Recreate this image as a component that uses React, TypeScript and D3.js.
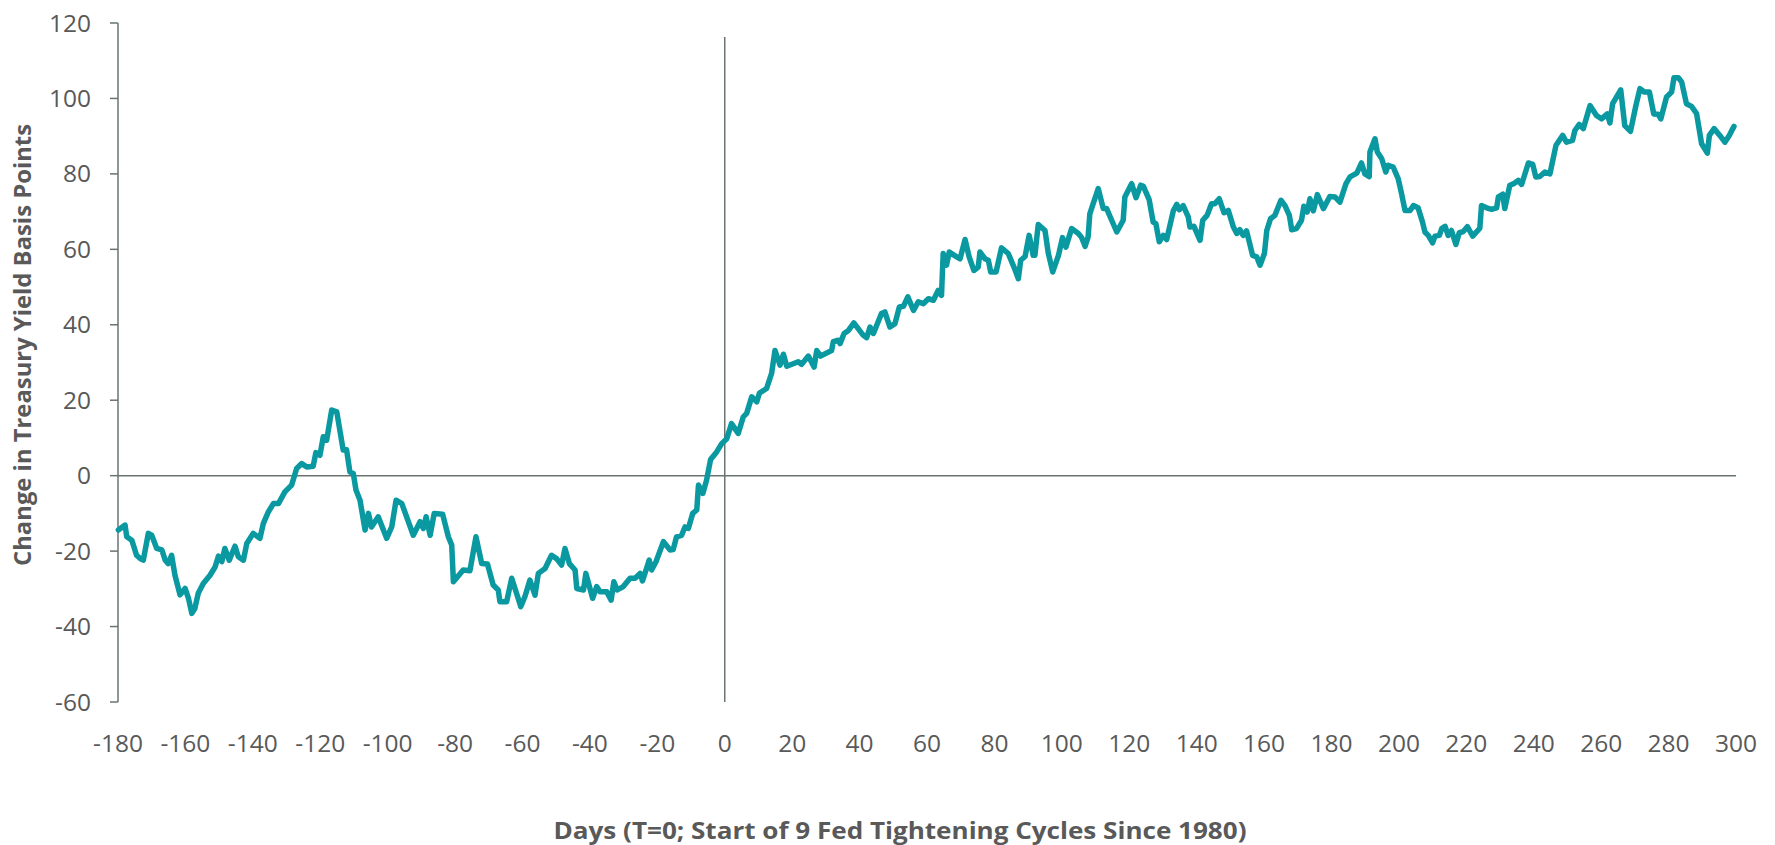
import React from "react";
import * as d3 from "d3";

const days: number[] = [
  -179.9, -177.9, -177.4, -175.9, -174.5, -173.5, -172.5, -171.0, -170.0, -168.5, -167.0, -166.0, -165.1, -164.1, -163.1,
  -161.6, -160.1, -159.1, -158.1, -157.2, -156.2, -154.7, -152.7, -151.2, -150.2, -149.2, -148.3, -147.0, -145.3, -144.3,
  -142.8, -141.8, -139.9, -137.9, -136.9, -135.4, -133.9, -132.4, -130.5, -128.5, -127.0, -125.5, -124.0, -122.1, -121.3,
  -120.1, -119.1, -118.1, -116.6, -115.1, -113.2, -112.2, -111.2, -110.2, -109.4, -108.2, -106.7, -105.7, -104.8, -102.8,
  -100.3, -98.8, -97.5, -95.8, -92.4, -90.4, -89.4, -88.6, -87.4, -86.2, -83.7, -82.0, -81.0, -80.5, -77.6,
  -75.6, -73.8, -72.1, -70.4, -68.7, -67.2, -66.7, -64.7, -63.2, -60.5, -59.3, -57.8, -56.3, -55.3, -53.3,
  -51.4, -49.9, -48.4, -47.4, -46.1, -44.4, -43.9, -41.9, -41.2, -39.2, -38.0, -37.0, -35.0, -33.7, -32.9,
  -31.9, -30.1, -28.1, -26.6, -25.1, -24.4, -22.4, -21.7, -20.4, -18.2, -16.2, -15.3, -14.3, -12.8, -11.8,
  -10.8, -9.5, -8.3, -7.8, -6.5, -5.4, -4.2, -2.4, -0.9, 0.6, 2.0, 4.0, 5.5, 6.5, 8.0,
  9.5, 10.3, 12.4, 13.9, 14.9, 16.4, 17.4, 18.4, 21.8, 22.8, 24.8, 26.5, 27.3, 28.4, 31.7,
  32.2, 33.7, 34.2, 35.4, 36.7, 38.3, 41.1, 42.1, 43.1, 44.1, 46.5, 47.5, 49.0, 50.5, 51.8,
  53.0, 54.3, 56.0, 57.4, 58.9, 60.4, 61.9, 63.3, 64.3, 64.8, 65.8, 66.6, 68.8, 69.8, 71.3,
  72.5, 73.9, 75.2, 75.7, 77.2, 78.2, 78.9, 80.5, 82.1, 84.1, 85.8, 87.1, 87.8, 89.1, 90.3,
  91.5, 92.0, 93.0, 95.0, 96.0, 97.3, 99.0, 100.2, 101.2, 102.9, 104.9, 105.9, 106.9, 107.8, 108.3,
  109.3, 110.8, 112.3, 113.3, 114.3, 116.3, 118.2, 118.7, 120.7, 122.0, 123.4, 124.2, 125.9, 127.1, 127.9,
  128.9, 130.1, 131.1, 133.1, 134.1, 134.8, 136.0, 137.5, 138.0, 139.2, 141.0, 141.8, 143.1, 144.4, 145.4,
  146.7, 148.1, 149.4, 150.9, 151.9, 152.8, 153.8, 154.8, 156.6, 157.8, 158.8, 160.1, 160.8, 161.9, 163.2,
  165.0, 166.2, 167.5, 168.2, 169.6, 171.1, 171.8, 172.8, 173.6, 174.6, 175.8, 177.6, 179.5, 181.0, 182.5,
  184.3, 185.5, 187.5, 188.9, 189.9, 191.2, 191.4, 192.9, 193.6, 194.9, 196.1, 196.8, 198.3, 199.8, 200.8,
  201.8, 203.3, 204.3, 205.7, 207.0, 207.7, 208.7, 210.0, 210.7, 212.0, 212.7, 213.7, 214.6, 215.6, 216.9,
  217.9, 219.1, 220.3, 221.9, 224.0, 224.5, 226.0, 227.5, 229.0, 229.5, 230.8, 231.4, 232.9, 234.1, 235.4,
  236.4, 238.4, 239.7, 240.6, 241.8, 243.3, 244.8, 246.6, 248.6, 249.7, 251.5, 252.2, 253.5, 254.7, 256.7,
  258.6, 260.1, 261.8, 262.6, 263.4, 265.8, 267.0, 268.7, 270.3, 271.5, 272.8, 274.3, 275.6, 276.9, 277.7,
  279.4, 280.9, 281.6, 282.9, 283.9, 285.3, 286.8, 288.3, 289.8, 291.5, 292.1, 293.5, 295.2, 296.7, 298.0,
  299.4,
];

const yieldChange: number[] = [
  -14.4, -13.1, -16.2, -17.1, -21.1, -21.9, -22.4, -15.3, -15.8, -19.3, -19.7, -22.4, -23.3, -21.1, -26.4,
  -31.6, -29.9, -32.5, -36.5, -35.2, -31.2, -28.6, -26.4, -24.2, -21.3, -22.8, -19.3, -22.4, -18.7, -21.5,
  -22.4, -18.0, -15.3, -16.6, -12.7, -9.6, -7.4, -7.4, -4.3, -2.5, 1.9, 3.2, 2.3, 2.5, 6.1,
  5.4, 10.3, 9.4, 17.4, 16.9, 6.8, 6.9, 1.0, 0.6, -3.8, -6.5, -14.4, -10.0, -13.6, -10.9,
  -16.6, -13.6, -6.5, -7.4, -15.8, -12.2, -14.0, -10.9, -15.8, -10.0, -10.2, -16.2, -18.4, -28.1, -25.0,
  -25.2, -16.2, -23.3, -23.4, -29.0, -30.3, -33.4, -33.4, -27.2, -34.7, -32.1, -27.7, -31.7, -25.9, -24.6,
  -21.1, -22.0, -23.7, -19.3, -23.3, -25.0, -29.9, -30.3, -25.9, -32.5, -29.4, -30.8, -30.8, -33.0, -28.1,
  -30.3, -29.4, -27.2, -27.2, -25.9, -27.9, -22.4, -25.0, -22.8, -17.5, -19.7, -19.6, -16.2, -15.8, -13.6,
  -14.0, -10.0, -9.1, -2.5, -4.7, -1.2, 4.3, 6.3, 8.5, 9.8, 13.8, 11.2, 15.6, 16.5, 20.9,
  19.6, 21.9, 23.1, 27.1, 33.2, 29.3, 32.2, 29.0, 30.2, 29.5, 31.7, 28.8, 33.2, 31.7, 33.2,
  35.5, 35.9, 35.0, 37.7, 38.5, 40.5, 37.2, 36.6, 39.4, 37.7, 43.0, 43.4, 39.4, 40.3, 44.7,
  44.9, 47.4, 43.8, 46.1, 45.6, 46.9, 46.5, 49.1, 47.8, 58.9, 55.8, 59.3, 58.0, 57.5, 62.6,
  58.0, 54.4, 55.3, 59.3, 57.5, 57.1, 54.0, 54.0, 60.4, 58.9, 55.3, 52.2, 57.1, 58.1, 63.7,
  58.4, 58.4, 66.6, 65.0, 58.9, 54.0, 58.4, 63.1, 60.6, 65.5, 64.2, 63.1, 60.8, 63.3, 69.4,
  72.1, 76.1, 70.8, 70.8, 68.7, 64.6, 67.7, 73.9, 77.4, 73.7, 77.0, 76.7, 73.2, 67.2, 66.8,
  62.0, 63.7, 62.6, 70.3, 71.9, 70.5, 71.6, 68.6, 65.9, 66.1, 62.4, 67.7, 69.0, 72.1, 72.1,
  73.4, 69.7, 70.3, 65.9, 64.2, 65.2, 63.7, 64.9, 58.4, 58.0, 55.8, 58.9, 65.0, 68.1, 69.0,
  73.0, 71.6, 69.0, 65.2, 65.5, 67.7, 71.4, 69.9, 73.4, 70.2, 74.5, 70.8, 74.0, 73.9, 72.5,
  77.4, 79.2, 80.2, 82.9, 80.0, 79.3, 85.8, 89.3, 85.8, 84.0, 80.5, 82.3, 81.8, 78.7, 74.7,
  70.3, 70.3, 71.6, 71.0, 67.2, 64.6, 63.7, 61.7, 63.5, 63.7, 65.5, 66.1, 63.7, 65.0, 61.3,
  64.4, 64.7, 66.0, 63.5, 65.6, 71.6, 71.0, 70.6, 71.0, 73.9, 74.6, 70.8, 77.0, 77.4, 78.3,
  77.2, 82.9, 82.5, 79.2, 79.3, 80.5, 80.0, 87.6, 90.2, 88.4, 88.9, 91.5, 93.1, 92.0, 98.1,
  95.5, 94.6, 95.9, 93.5, 98.6, 102.3, 92.8, 91.3, 98.1, 102.6, 101.7, 101.7, 95.9, 95.8, 94.6,
  100.4, 101.7, 105.5, 105.5, 104.3, 98.6, 97.9, 96.0, 88.0, 85.5, 90.2, 92.0, 90.2, 88.4, 90.2,
  92.6,
];

const yTicks: number[] = [-60, -40, -20, 0, 20, 40, 60, 80, 100, 120];
const xTicks: number[] = [-180, -160, -140, -120, -100, -80, -60, -40, -20, 0, 20, 40, 60, 80, 100, 120, 140, 160, 180, 200, 220, 240, 260, 280, 300];

const xTitle = "Days (T=0; Start of 9 Fed Tightening Cycles Since 1980)";
const yTitle = "Change in Treasury Yield Basis Points";

const W = 1775;
const H = 845;
const FONT = "'Open Sans', 'Noto Sans', sans-serif";
const TEXT = "#595959";
const AXIS = "#6a7470";
const LINE = "#0a99a0";

export default function App() {
  const x = d3.scaleLinear().domain([-180, 300]).range([118, 1736]);
  const y = d3.scaleLinear().domain([-60, 120]).range([702, 23]);
  const pts: [number, number][] = days.map((d, i) => [d, yieldChange[i]]);
  const line = d3
    .line<[number, number]>()
    .x((p) => x(p[0]))
    .y((p) => y(p[1]));

  return (
    <svg
      width={W}
      height={H}
      viewBox={`0 0 ${W} ${H}`}
      style={{ position: "fixed", left: 0, top: 0, background: "#fff" }}
    >
      <rect width={W} height={H} fill="#fff" />
      <line x1={x(-180)} x2={x(300)} y1={y(0)} y2={y(0)} stroke={AXIS} strokeWidth={1.5} />
      <line x1={x(0)} x2={x(0)} y1={37} y2={y(-60)} stroke={AXIS} strokeWidth={1.5} />
      <line x1={x(-180)} x2={x(-180)} y1={y(120)} y2={y(-60)} stroke={AXIS} strokeWidth={1.5} />
      {yTicks.map((t) => (
        <g key={t}>
          <line x1={x(-180) - 8} x2={x(-180)} y1={y(t)} y2={y(t)} stroke={AXIS} strokeWidth={1.5} />
          <text
            x={x(-180) - 27}
            y={y(t)}
            dy="0.35em"
            textAnchor="end"
            fontFamily={FONT}
            fontSize={24.5}
            fill={TEXT}
          >
            {t}
          </text>
        </g>
      ))}
      {xTicks.map((t) => (
        <text
          key={t}
          x={x(t)}
          y={752}
          textAnchor="middle"
          fontFamily={FONT}
          fontSize={24.5}
          fill={TEXT}
        >
          {t}
        </text>
      ))}
      <path
        d={line(pts) || ""}
        fill="none"
        stroke={LINE}
        strokeWidth={5.5}
        strokeLinejoin="round"
        strokeLinecap="round"
      />
      <text
        x={900}
        y={839}
        textAnchor="middle"
        fontFamily={FONT}
        fontWeight={700}
        fontSize={24}
        textLength={693}
        lengthAdjust="spacingAndGlyphs"
        fill={TEXT}
      >
        {xTitle}
      </text>
      <text
        transform={`translate(31, 345) rotate(-90)`}
        textAnchor="middle"
        fontFamily={FONT}
        fontWeight={700}
        fontSize={24}
        textLength={442}
        lengthAdjust="spacingAndGlyphs"
        fill={TEXT}
      >
        {yTitle}
      </text>
    </svg>
  );
}
